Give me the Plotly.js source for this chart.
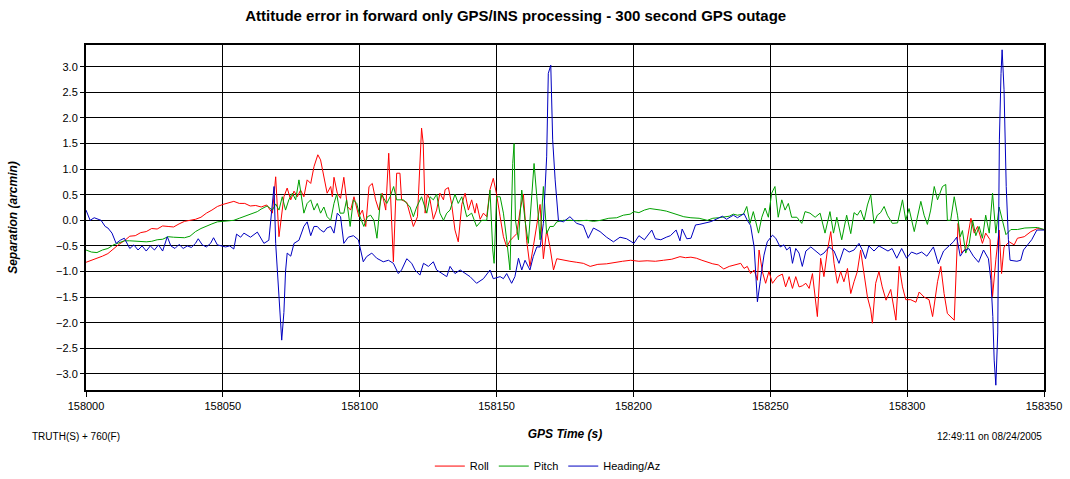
<!DOCTYPE html>
<html>
<head>
<meta charset="utf-8">
<script src="https://cdn.plot.ly/plotly-3.0.1.min.js"></script>
<style>html,body{margin:0;padding:0;background:#fff;}#chart{width:1070px;height:479px;}</style>
</head>
<body>
<div id="chart"></div>
<script>
// GPS time base (s) and time offsets from it
const T0 = 158000;
const seriesNames = ["Roll", "Pitch", "Heading/Az"];
const xTickValues = [158000, 158050, 158100, 158150, 158200, 158250, 158300, 158350];
const yTickValues = [-3.0, -2.5, -2.0, -1.5, -1.0, -0.5, 0.0, 0.5, 1.0, 1.5, 2.0, 2.5, 3.0];

// [seconds after T0, arcmin]
const rollData = [
[0,-0.82],[2,-0.78],[4,-0.75],[6,-0.70],[8,-0.65],[10,-0.56],[12,-0.47],[14,-0.40],[16,-0.31],[18,-0.30],
[20,-0.24],[22,-0.22],[24,-0.16],[26,-0.17],[28,-0.11],[30,-0.12],[32,-0.13],[34,-0.07],[36,-0.02],[38,0.00],
[40,0.02],[42,0.06],[44,0.14],[46,0.20],[48,0.27],[50,0.31],[52,0.34],[54,0.37],[56,0.33],[58,0.33],
[60,0.28],[62,0.29],[64,0.26],[66,0.30],[68.1,0.14],[69.3,0.85],[70.5,-0.32],[71.7,0.2],[72.3,0.46],[73.5,0.63],
[74.8,0.4],[76,0.57],[77.2,0.46],[78.4,0.59],[79.6,0.46],[80.8,0.79],[82.1,0.72],[83.3,1.05],[84.7,1.28],[85.7,1.18],
[86.9,0.84],[88.1,0.53],[89.4,0.66],[90,0.46],[90.6,0.84],[91.8,0.53],[93,0.43],[94.2,0.84],[95.5,0.27],[96.7,0.2],
[97.9,0.46],[99.1,0.2],[99.7,0.07],[101,0.2],[102.2,-0.12],[103.4,0.66],[104.6,0.72],[105.8,0.4],[107,0.2],[108.2,0.53],
[109.5,0.2],[110.6,1.31],[112.3,-0.81],[113.5,0.92],[114.7,0.92],[115.3,0.4],[117.2,0.35],[119.6,-0.12],[121.1,0.07],[122.6,1.8],
[123.2,1.5],[123.9,0.14],[124.7,0.51],[125.7,0.4],[126.9,0.02],[128.1,0.2],[129.3,0.53],[130.6,0.4],[131.2,0.6],[132.4,0.64],
[133.6,0.31],[134.8,-0.19],[136,-0.42],[137.3,0.31],[138.5,0.53],[139.7,0.2],[140.9,0.4],[142.1,0.14],[142.7,0.33],[144,0.02],
[145.2,0.14],[146.4,0.07],[147.6,0.6],[148.8,0.82],[150,0.51],[151.3,0.07],[152.5,-0.32],[153.7,-0.52],[154.9,-0.4],[156.1,-0.33],
[157.4,-0.26],[158.6,0.2],[159.8,0.51],[161,-0.4],[162.2,-0.9],[163.4,-0.52],[164.7,-0.06],[165.9,0.31],[167.1,-0.75],[168.3,-0.19],
[169.5,-0.52],[170.8,-0.97],[172,-0.75],[174.4,-0.78],[176.8,-0.8],[179.3,-0.82],[181.7,-0.84],[184.2,-0.9],[187,-0.86],[190.2,-0.85],
[193,-0.82],[196,-0.8],[199,-0.78],[202,-0.8],[205,-0.79],[208,-0.8],[211,-0.78],[214,-0.76],[217,-0.71],[219,-0.73],
[221,-0.72],[223,-0.74],[225,-0.78],[227,-0.82],[229,-0.85],[231,-0.87],[233,-0.95],[235,-0.9],[236.8,-0.87],[239.2,-0.84],
[240.4,-0.94],[241.6,-0.9],[242.8,-1.04],[244.1,-0.97],[245.3,-1.17],[245.9,-0.58],[247.1,-1.0],[248.3,-1.23],[249.5,-1.0],[250.8,-1.23],
[252.6,-1.1],[254.4,-1.05],[255.6,-1.3],[256.9,-1.1],[258.1,-1.33],[259.3,-1.1],[260.5,-1.3],[261.7,-1.28],[263,-1.23],[264.2,-1.33],
[265.4,-1.04],[266.6,-1.69],[267.2,-1.88],[268.4,-0.74],[269.6,-1.1],[270.9,-0.58],[272.1,-0.22],[273.3,-0.84],[274.5,-1.23],[275.7,-1.0],
[276.9,-1.2],[278.2,-0.94],[279.4,-1.43],[280.6,-1.2],[281.8,-1.0],[283,-0.58],[284.3,-1.1],[285.5,-1.5],[286.7,-1.75],[287.3,-2.01],
[288.5,-1.23],[289.7,-1.0],[290.9,-1.3],[292.3,-1.56],[294,-1.35],[295.9,-1.95],[297.1,-0.9],[298.3,-1.3],[299.5,-1.55],[301.3,-1.55],
[303.2,-1.6],[304.4,-1.4],[306.2,-1.5],[308,-1.55],[309.3,-1.88],[311.1,-1.2],[312.3,-0.9],[313.5,-1.43],[314.7,-1.82],[316,-1.88],
[317.2,-1.95],[318.6,-0.06],[319.9,-0.64],[321.4,-0.55],[323.3,0.04],[324.5,-0.25],[325.7,-0.12],[327.5,-0.45],[328.7,-0.25],[330.3,-0.38],
[331.2,-1.49],[332.4,-0.77],[333.6,-0.19],[334.5,-1.04],[335.4,-0.52],[337.3,-0.42],[339.1,-0.48],[340.3,-0.35],[342.8,-0.32],[345.2,-0.22],
[347.6,-0.16],[350,-0.18]
];

const pitchData = [
[0,-0.58],[2,-0.62],[4,-0.63],[6,-0.58],[8,-0.55],[10,-0.48],[12,-0.44],[14,-0.40],[16,-0.40],[18,-0.41],
[20,-0.42],[22,-0.42],[24,-0.41],[26,-0.38],[28,-0.37],[30,-0.32],[32,-0.33],[34,-0.34],[36,-0.34],[38,-0.31],
[40,-0.22],[42,-0.16],[44,-0.11],[46,-0.07],[48,-0.03],[50,-0.02],[52,-0.01],[54,0.0],[56,0.04],[57.7,0.07],
[60,0.12],[62.6,0.17],[64,0.22],[66.2,0.28],[68.1,0.2],[69.3,0.32],[70.5,0.2],[71.7,0.46],[72.9,0.2],[74.1,0.4],
[75.4,0.53],[76.6,0.4],[77.8,0.79],[78.6,0.46],[79.6,0.14],[80.8,0.33],[82.1,0.4],[83.3,0.2],[84.5,0.33],[85.7,0.14],
[86.9,0.26],[88.1,0.07],[89.4,0.0],[90.6,0.33],[91.6,0.51],[92.8,0.14],[94.2,0.14],[95.2,0.4],[96.5,-0.12],[97.7,0.4],
[98.9,0.33],[100.1,0.07],[101.5,-0.12],[102.8,0.07],[104,0.1],[105.2,0.0],[106.3,-0.35],[107.8,0.52],[109.9,0.33],[111.1,0.46],
[112.4,0.66],[113.5,0.4],[116,0.4],[118.4,0.26],[119.6,0.07],[120.8,0.26],[122.6,0.46],[124.5,0.14],[125.7,0.46],[126.9,0.4],
[128.1,0.51],[129.3,0.14],[130.6,0.0],[131.8,0.14],[133,0.2],[134.8,0.51],[136,0.33],[137.3,0.46],[139.1,0.07],[140.9,0.14],
[142.7,-0.12],[144.6,0.0],[146.4,0.0],[147.6,0.59],[148.6,-0.58],[149.1,-0.84],[150,0.46],[151.3,0.46],[152.5,0.14],[153.7,-0.38],
[154.9,-0.97],[155.9,1.11],[156.4,1.5],[156.9,0.0],[158,-0.38],[159.2,0.59],[160.4,0.0],[161.6,-0.45],[162.8,0.51],[163.7,1.11],
[164.7,0.46],[165.9,-0.38],[167.1,0.66],[168.3,-0.26],[169.5,-0.12],[170.8,-0.12],[172,-0.03],[174.4,0.0],[176.8,0.0],[180,-0.01],
[183,0.0],[185.4,-0.02],[188,0.0],[191,0.04],[193.9,0.05],[196.3,0.1],[198.8,0.12],[200.2,0.17],[202,0.15],[204,0.2],
[206,0.23],[208,0.22],[210,0.2],[212,0.18],[214,0.15],[216,0.12],[218.4,0.07],[221,0.05],[224,0.04],[227,0.0],
[229,0.04],[231,0.05],[233,0.07],[235,0.08],[236.5,0.12],[238,0.1],[240.2,0.12],[241.4,0.27],[242.6,-0.06],[243.8,0.17],
[245.7,-0.25],[246.9,0.06],[248.1,0.24],[249.3,0.06],[250.5,0.53],[251.7,0.66],[252.9,0.06],[254.2,0.4],[255.4,0.2],[256.6,0.33],
[257.8,0.06],[259.7,0.06],[261.5,-0.06],[262.7,0.17],[264.5,0.14],[266.4,0.06],[268.2,0.14],[270,-0.25],[271.8,0.17],[273.1,-0.25],
[274.3,0.06],[276.1,-0.38],[277.9,0.1],[279.4,-0.26],[280.6,0.15],[281.8,0.1],[283,0.2],[284.3,0.0],[285.5,0.3],[286.7,0.5],
[287.9,-0.06],[289.1,0.1],[290.3,0.15],[291.6,0.27],[292.8,0.1],[294.6,-0.06],[296.5,-0.05],[298.3,0.4],[299.5,0.0],[300.7,0.23],
[302.6,-0.22],[305,0.37],[306.2,0.1],[307.4,-0.08],[308.6,0.2],[309.9,0.66],[311.1,0.4],[312,0.55],[312.9,0.66],[314.1,0.7],
[314.7,0.0],[315.9,0.0],[317.2,0.46],[318.4,0.1],[319.4,-0.32],[320.2,-0.2],[321.4,-0.64],[322.7,-0.45],[323.9,0.0],[325.1,-0.3],
[326.3,-0.12],[327.5,-0.35],[328.7,0.1],[330,-0.25],[331.2,0.53],[332.4,-0.25],[333.6,0.26],[334.8,0.0],[336.1,-0.28],[337.9,-0.18],
[340.3,-0.18],[343,-0.15],[345.5,-0.14],[347.6,-0.14],[350,-0.18]
];

const headingData = [
[0,0.2],[1.5,0.0],[3,0.05],[4,0.03],[5.5,0.0],[7,-0.12],[8,-0.15],[9.5,-0.25],[11,-0.45],[12.5,-0.39],
[14,-0.35],[16,-0.55],[17.5,-0.48],[19,-0.58],[20.5,-0.5],[22,-0.6],[23.5,-0.5],[25,-0.58],[26.5,-0.48],[28,-0.6],
[29.7,-0.32],[31,-0.5],[32.5,-0.55],[34,-0.47],[35.5,-0.55],[37,-0.5],[38.5,-0.53],[40,-0.45],[41,-0.36],[42.5,-0.48],
[44,-0.52],[45.5,-0.45],[46.6,-0.34],[48,-0.48],[49.5,-0.5],[51,-0.52],[52.5,-0.5],[54,-0.56],[55,-0.27],[56.5,-0.33],
[57.7,-0.25],[60.1,-0.33],[62.6,-0.23],[65,-0.45],[66.8,-0.39],[68.1,0.4],[68.7,0.66],[69.3,-0.45],[69.9,-1.03],[70.5,-1.42],
[71.5,-2.34],[72.3,-1.8],[72.9,-1.0],[73.5,-0.64],[74.8,-0.7],[76,-0.45],[77.8,-0.39],[79.6,-0.12],[80.8,-0.03],[82.1,-0.3],
[83.3,-0.12],[84.5,-0.12],[85.7,-0.19],[86.9,-0.23],[88,-0.15],[89.4,-0.12],[90.6,-0.25],[91.8,0.14],[93,0.07],[94.2,-0.45],
[95.8,-0.33],[97.7,-0.3],[99.5,-0.38],[101.3,-0.81],[102.5,-0.71],[104.4,-0.64],[106.2,-0.74],[108.6,-0.81],[110.5,-0.78],[112.3,-0.84],
[114.1,-1.04],[115.3,-0.97],[117.2,-0.75],[119,-0.84],[120.2,-0.97],[122,-1.07],[123.3,-0.84],[125.1,-0.9],[126.9,-0.81],[128.1,-0.97],
[130,-1.04],[131.8,-1.1],[133,-0.9],[134.8,-1.04],[136.7,-0.97],[138.5,-1.04],[140.3,-1.1],[142.7,-1.23],[145.2,-1.14],[147.6,-0.97],
[148.8,-1.14],[151.3,-1.1],[152.5,-1.14],[153.7,-1.04],[155.5,-1.23],[156.7,-1.1],[158,-0.74],[159.2,-0.97],[160.4,-0.78],[162.2,-0.97],
[163.4,-0.71],[164.7,-0.52],[165.9,-0.52],[167.1,-0.06],[168.3,1.24],[168.9,2.87],[169.8,3.03],[170.5,1.57],[171.4,0.79],[172.6,0.0],
[174.4,-0.03],[176.8,0.07],[179.3,-0.06],[181.7,-0.1],[183.5,-0.35],[185.4,-0.15],[187.8,-0.22],[190.2,-0.33],[192.7,-0.42],[195.1,-0.33],
[197.5,-0.36],[200.2,-0.45],[202,-0.3],[204,-0.38],[206.7,-0.19],[208,-0.36],[210,-0.38],[212,-0.33],[213.5,-0.3],[215.6,-0.19],
[217,-0.4],[217.8,-0.17],[219.5,-0.36],[221,-0.35],[222.7,-0.09],[224,-0.08],[226,-0.06],[228,-0.03],[229.4,0.0],[231,0.05],
[232.5,0.08],[234,0.02],[236.5,0.1],[238,0.05],[240.4,0.13],[241.6,0.0],[242.8,-0.1],[244.1,-0.52],[244.7,-0.97],[245.3,-1.59],
[246.3,-1.2],[247.7,-0.68],[248.9,-0.42],[250.8,-0.29],[252,-0.35],[253.6,-0.52],[255,-0.48],[256,-0.58],[257.2,-0.52],[258.1,-0.84],
[259.3,-0.55],[260.5,-0.64],[261.7,-0.9],[263,-0.6],[264.8,-0.52],[266.6,-0.6],[268.4,-0.68],[269.6,-0.64],[271.5,-0.52],[273.3,-0.6],
[275.1,-0.84],[276.9,-0.55],[278.8,-0.62],[280.6,-0.58],[282.4,-0.45],[283.6,-0.58],[284.8,-0.75],[286,-0.5],[287.9,-0.6],[289.7,-0.5],
[291.5,-0.55],[293,-0.6],[294.5,-0.55],[296.2,-0.74],[298,-0.55],[299.8,-0.74],[301.6,-0.62],[303.5,-0.66],[305.3,-0.62],[307.2,-0.7],
[309.6,-0.52],[311.4,-0.85],[313.3,-0.6],[315.7,-0.48],[316.9,-0.42],[318.1,-0.33],[319.4,-0.7],[320.6,-0.6],[322.5,-0.55],[324.2,-0.7],
[326.1,-0.82],[327.9,-0.58],[329.7,-0.75],[330.6,-1.17],[331.3,-1.88],[331.8,-2.73],[332.4,-3.22],[333.1,-2.2],[333.7,1.57],[334.3,2.87],
[334.7,3.33],[335.4,2.55],[336.2,0.66],[337,-0.38],[337.6,-0.78],[340.1,-0.8],[341.5,-0.78],[342.5,-0.58],[344.3,-0.45],[345.5,-0.38],
[347.4,-0.19],[350,-0.19]
];

const seriesData = [rollData, pitchData, headingData];
const seriesColors = ["#FF0000", "#00A000", "#0000C0"];

const traces = seriesData.map((d, i) => ({
  type: "scatter",
  mode: "lines",
  name: seriesNames[i],
  x: d.map(p => T0 + p[0]),
  y: d.map(p => p[1]),
  line: {color: seriesColors[i], width: 1}
}));

const FONT = "Liberation Sans Narrow, Arial Narrow, Liberation Sans, Arial, sans-serif";

const layout = {
  width: 1070, height: 479,
  paper_bgcolor: "#ffffff", plot_bgcolor: "#ffffff",
  margin: {l: 86, r: 26, t: 45, b: 89, pad: 0},
  font: {family: FONT, size: 11, color: "#000"},
  title: {
    text: "<b>Attitude error in forward only GPS/INS processing - 300 second GPS outage</b>",
    font: {family: FONT, size: 15, color: "#000"},
    x: 0.482, xanchor: "center", xref: "container",
    y: 0.968, yanchor: "middle", yref: "container"
  },
  xaxis: {
    range: [158000, 158350],
    tickvals: xTickValues,
    tickformat: "d",
    ticks: "outside", ticklen: 5, tickwidth: 1, tickcolor: "#000",
    showgrid: true, gridcolor: "#000", gridwidth: 1,
    zeroline: false,
    showline: true, linecolor: "#000", linewidth: 2, mirror: true,
    tickfont: {family: FONT, size: 11},
    title: {text: "<b><i>GPS Time (s)</i></b>", font: {family: FONT, size: 12}, standoff: 18},
    automargin: false
  },
  yaxis: {
    range: [-3.314, 3.424],
    tickvals: yTickValues,
    tickformat: ".1f",
    ticks: "outside", ticklen: 4, tickwidth: 1, tickcolor: "#000",
    showgrid: true, gridcolor: "#000", gridwidth: 1,
    zeroline: false,
    showline: true, linecolor: "#000", linewidth: 2, mirror: true,
    tickfont: {family: FONT, size: 11},
    title: {text: "<b><i>Separation (arcmin)</i></b>", font: {family: FONT, size: 12}, standoff: 36},
    automargin: false
  },
  showlegend: true,
  legend: {
    orientation: "h",
    x: 0.512, xanchor: "center", xref: "container",
    y: 0.027, yanchor: "middle", yref: "container",
    font: {family: FONT, size: 11},
    itemwidth: 30,
    bgcolor: "rgba(0,0,0,0)"
  },
  annotations: [
    {text: "TRUTH(S) + 760(F)", xref: "paper", yref: "paper", x: -0.058, y: -0.136,
     xanchor: "left", yanchor: "middle", showarrow: false, font: {family: FONT, size: 10}},
    {text: "12:49:11 on 08/24/2005", xref: "paper", yref: "paper", x: 1.0, y: -0.136,
     xanchor: "right", yanchor: "middle", showarrow: false, font: {family: FONT, size: 10}}
  ]
};

Plotly.newPlot("chart", traces, layout, {staticPlot: true, displayModeBar: false});
</script>
</body>
</html>
